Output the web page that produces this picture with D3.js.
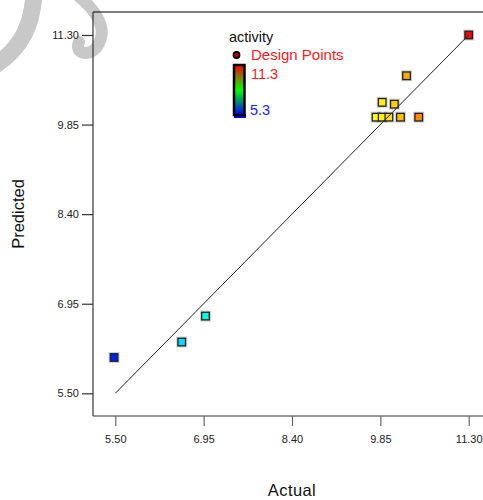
<!DOCTYPE html>
<html><head><meta charset="utf-8">
<script src="https://cdn.jsdelivr.net/npm/d3@7"></script>
<style>body{margin:0;background:#fff}svg{display:block;font-family:"Liberation Sans",Arial,sans-serif}</style>
</head><body><svg id="c" width="483" height="500"></svg>
<script>
const actual    = [11.30, 10.28, 9.88, 10.08, 9.78, 9.88, 9.99, 10.18, 10.48, 5.48, 6.59, 6.98];
const predicted = [11.30, 10.64, 10.21, 10.18, 9.97, 9.97, 9.97, 9.97, 9.97, 6.08, 6.33, 6.75];
const tickVals  = [5.50, 6.95, 8.40, 9.85, 11.30];
const colorStops = [5.3, 6.8, 8.3, 9.8, 11.3];
const colorRange = ["#0000ff", "#00ffff", "#00ff00", "#ffff00", "#ff0000"];
const legendTitle = "activity", legendPoints = "Design Points", legendHi = "11.3", legendLo = "5.3";

const svg = d3.select("#c");
const L = 93, T = 12, R = 483, B = 416;
const x = d3.scaleLinear().domain([5.5, 11.3]).range([115.3, 468.7]);
const y = d3.scaleLinear().domain([5.5, 11.3]).range([393.3, 35]);
const color = d3.scaleLinear().domain(colorStops).range(colorRange).clamp(true);

// watermark
const wm = svg.append("g").attr("fill", "none").attr("stroke", "#c8c8c8").attr("stroke-linecap", "round");
wm.append("path").attr("d", "M 34 -6 C 32 25, 22 48, -6 66").attr("stroke-width", 17);
wm.append("path").attr("d", "M 76 -6 C 96 10, 110 30, 96 48 C 88 57, 74 53, 79 42").attr("stroke-width", 12);

// frame
svg.append("line").attr("x1", L).attr("x2", R).attr("y1", T).attr("y2", T).attr("stroke", "#000").attr("stroke-width", 1.2);
svg.append("line").attr("x1", L).attr("x2", L).attr("y1", T).attr("y2", B).attr("stroke", "#333").attr("stroke-width", 1.2);
svg.append("line").attr("x1", L).attr("x2", R).attr("y1", B).attr("y2", B).attr("stroke", "#333").attr("stroke-width", 1.2);

// axes
const xa = svg.append("g").attr("transform", `translate(0,${B})`)
  .call(d3.axisBottom(x).tickValues(tickVals).tickFormat(d3.format(".2f")).tickSize(10).tickSizeOuter(0).tickPadding(9));
xa.select(".domain").remove();
xa.selectAll("line").attr("stroke", "#666").attr("stroke-width", 1.2);
xa.selectAll("text").attr("font-size", 11).attr("fill", "#222").attr("font-family", "Liberation Sans, Arial, sans-serif");

const ya = svg.append("g").attr("transform", `translate(${L},0)`)
  .call(d3.axisLeft(y).tickValues(tickVals).tickFormat(d3.format(".2f")).tickSize(11).tickSizeOuter(0).tickPadding(3));
ya.select(".domain").remove();
ya.selectAll("line").attr("stroke", "#333").attr("stroke-width", 1.2);
ya.selectAll("text").attr("font-size", 11).attr("fill", "#222").attr("font-family", "Liberation Sans, Arial, sans-serif");

// axis titles
svg.append("text").attr("x", 292).attr("y", 495.5).attr("text-anchor", "middle").attr("font-size", 16.5).attr("fill", "#111").attr("letter-spacing", 0.4).text("Actual");
svg.append("text").attr("transform", "translate(24,214) rotate(-90)").attr("text-anchor", "middle").attr("font-size", 16.5).attr("fill", "#111").text("Predicted");

// points
const pts = actual.map((a, i) => ({a, p: predicted[i]}));
const g = svg.append("g");
g.selectAll("rect.halo").data(pts).join("rect").attr("class", "halo")
  .attr("x", d => x(d.a) - 5.5).attr("y", d => y(d.p) - 5.5).attr("width", 11).attr("height", 11)
  .attr("fill", "#999").attr("opacity", 0.45);
g.selectAll("rect.pt").data(pts).join("rect").attr("class", "pt")
  .attr("x", d => x(d.a) - 3.8).attr("y", d => y(d.p) - 3.8).attr("width", 7.6).attr("height", 7.6)
  .attr("fill", d => color(d.a)).attr("stroke", "#222").attr("stroke-width", 1.3);

// diagonal line
svg.append("line").attr("x1", x(5.5)).attr("y1", y(5.5)).attr("x2", x(11.3)).attr("y2", y(11.3))
  .attr("stroke", "#222").attr("stroke-width", 1);

// legend
const defs = svg.append("defs");
const grad = defs.append("linearGradient").attr("id", "lg").attr("x1", 0).attr("x2", 0).attr("y1", 0).attr("y2", 1);
grad.append("stop").attr("offset", "0%").attr("stop-color", "#ff0000");
grad.append("stop").attr("offset", "50%").attr("stop-color", "#00ff00");
grad.append("stop").attr("offset", "100%").attr("stop-color", "#0000ff");
svg.append("text").attr("x", 229).attr("y", 42).attr("font-size", 14.5).attr("fill", "#111").text(legendTitle);
svg.append("circle").attr("cx", 236.5).attr("cy", 55).attr("r", 3).attr("fill", "#c00").attr("stroke", "#000").attr("stroke-width", 1.8);
svg.append("text").attr("x", 251).attr("y", 60).attr("font-size", 15).attr("fill", "#ff1a1a").text(legendPoints);
svg.append("rect").attr("x", 234).attr("y", 114).attr("width", 12).attr("height", 4).attr("fill", "#0000ff");
svg.append("rect").attr("x", 234).attr("y", 65).attr("width", 10.5).attr("height", 50).attr("fill", "url(#lg)").attr("stroke", "#000").attr("stroke-width", 2.5);
svg.append("text").attr("x", 251).attr("y", 78.5).attr("font-size", 14.5).attr("fill", "#ff1a1a").text(legendHi);
svg.append("text").attr("x", 250).attr("y", 114.5).attr("font-size", 14.5).attr("fill", "#1a1aff").text(legendLo);
</script></body></html>
